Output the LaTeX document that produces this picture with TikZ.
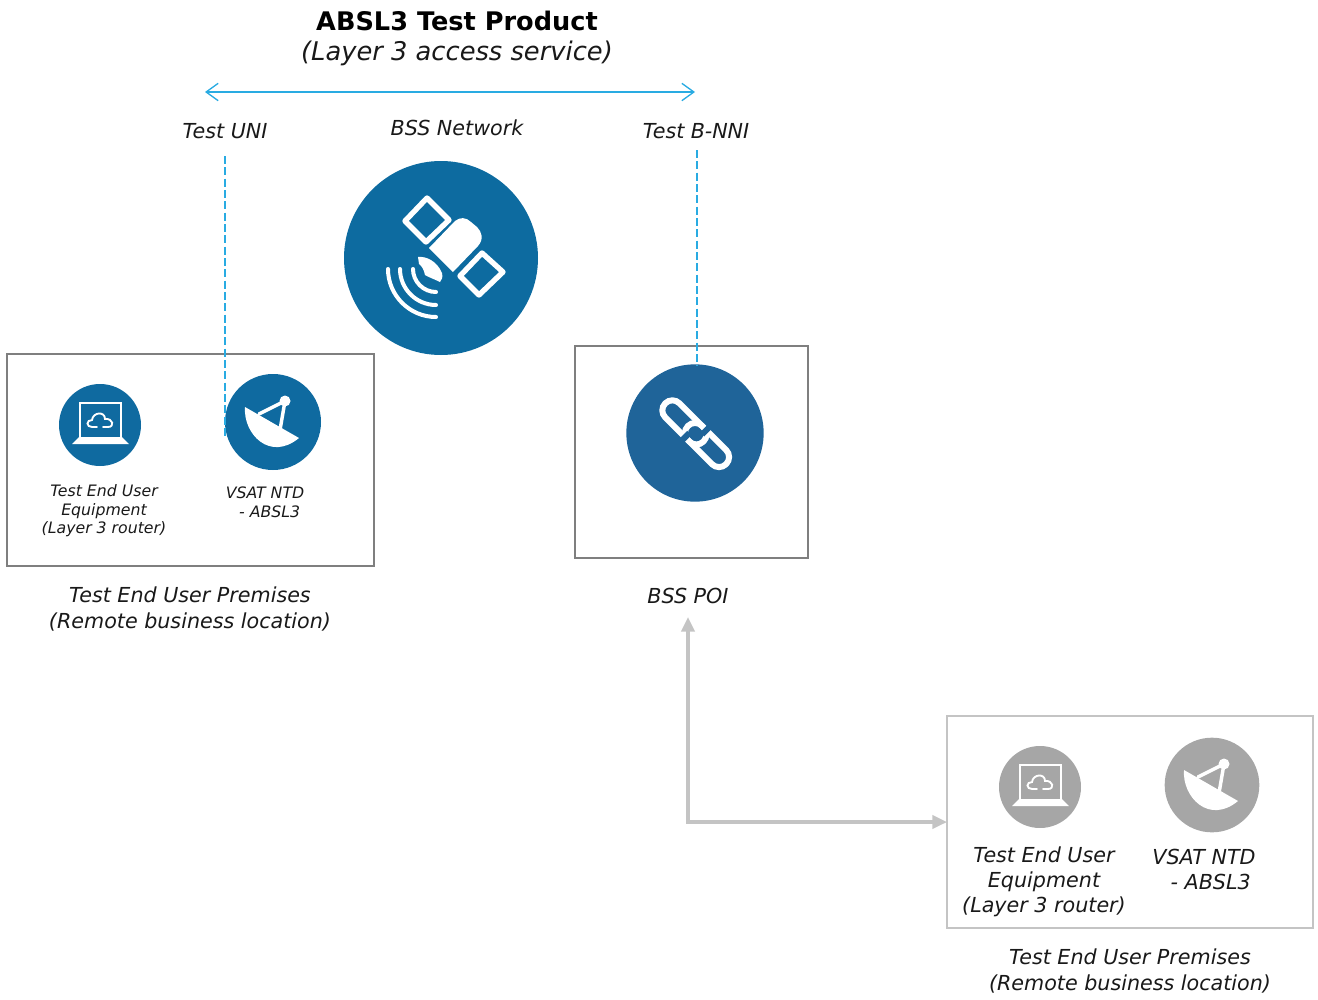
\documentclass[tikz,border=0pt]{standalone}
\usepackage{fontspec}
\setmainfont{DejaVu Sans}
\usetikzlibrary{arrows.meta}
\definecolor{satblue}{HTML}{0D6BA0}
\definecolor{linkblue}{HTML}{1F6499}
\definecolor{iconblue}{HTML}{0F6AA0}
\definecolor{icongray}{HTML}{A6A6A6}
\definecolor{boxgray}{HTML}{7F7F7F}
\definecolor{boxlight}{HTML}{C4C4C4}
\definecolor{linecyan}{HTML}{29ABE2}
\newcommand{\wavearc}[1]{%
  \draw[iconline,line cap=round,line width=3pt] (-5-#1,11) .. controls (-5-#1,11+0.55*#1) and (-5-0.55*#1,11+#1) .. (-5,11+#1);}
\newcommand{\laptopicon}[1]{%
  \begin{scope}[shift={(#1)}]
    \draw[white,line width=1.6pt] (-20,12) -- (-20,-22) -- (21,-22) -- (21,12);
    \fill[white] (-21,12) -- (22,12) -- (29,19) -- (-28,19) -- cycle;
    \draw[white,line width=1.4pt,line cap=round] (-3,2) -- (-8,2) .. controls (-14,2) and (-14,-5) .. (-8,-5) .. controls (-7,-13) and (5,-14) .. (5,-6) .. controls (13,-7) and (15,2) .. (8,2) -- (3,2);
  \end{scope}}
\newcommand{\dishicon}[1]{%
  \begin{scope}[shift={(#1)}]
    \fill[white] (-28,-15) .. controls (-30,12) and (-3,40) .. (26,16) -- cycle;
    \draw[white,line width=2.6pt,line cap=round] (-14,-8) -- (12,-21) -- (7,8);
    \fill[white] (12,-21) circle[radius=5.5];
  \end{scope}}
\tikzset{
  lab/.style={font=\itshape\fontsize{15.5}{18.8}\selectfont,align=center,text=black!90,inner sep=0pt},
  smalllab/.style={font=\itshape\fontsize{11.8}{13.9}\selectfont,align=center,text=black!90,inner sep=0pt},
  iconline/.style={white,line width=3pt},
  premises/.style={draw=boxgray,line width=2.2pt,fill=none,outer sep=0pt,inner sep=0pt},
  premiseslight/.style={draw=boxlight,line width=2.2pt,fill=none,outer sep=0pt,inner sep=0pt},
  disc/.style={circle,inner sep=0pt,outer sep=0pt},
  dashline/.style={linecyan,line width=1pt,dash pattern=on 6pt off 2.5pt},
}
\begin{document}
\begin{tikzpicture}[x=0.75pt,y=-0.75pt]
\useasboundingbox (0,0) rectangle (1318,1000);

% title
\node[inner sep=0pt,font=\bfseries\fontsize{19.2}{22}\selectfont] (title) at (457,21) {ABSL3 Test Product};
\node[lab,font=\itshape\fontsize{19.3}{22}\selectfont] (subtitle) at (457,53) {(Layer 3 access service)};

% span arrow
\coordinate (spanl) at (205,92);
\coordinate (spanr) at (695,92);
\draw[linecyan,line width=1pt,{Straight Barb[length=9pt,width=13pt]}-{Straight Barb[length=9pt,width=13pt]}] (spanl) -- (spanr);

\node[lab] (uni) at (225,131) {Test UNI};
\node[lab] (net) at (457,128) {BSS Network};
\node[lab] (nni) at (696,131) {Test B-NNI};

% boxes
\node[premises,minimum width=275.25pt,minimum height=159pt] (lbox) at (190.5,460) {};
\node[premises,minimum width=174.75pt,minimum height=159pt] (pbox) at (691.5,452) {};
\node[premiseslight,minimum width=274.5pt,minimum height=159pt] (rbox) at (1130,822) {};

% discs
\node[disc,fill=satblue,minimum size=145.5pt] (sat) at (441,258) {};
\node[disc,fill=iconblue,minimum size=61.5pt] (lap) at (100,425) {};
\node[disc,fill=iconblue,minimum size=72pt] (dish) at (273,422) {};
\node[disc,fill=linkblue,minimum size=103pt] (link) at (695,433) {};
\node[disc,fill=icongray,minimum size=61.5pt] (lapg) at (1040,787) {};
\node[disc,fill=icongray,minimum size=71pt] (dishg) at (1212,785) {};

% dashed lines
\coordinate (unitop) at (225,156);
\coordinate (uniend) at (225,438);
\coordinate (nnitop) at (697,150);
\coordinate (nniend) at (697,366);
\draw[dashline] (unitop) -- (uniend);
\draw[dashline] (nnitop) -- (nniend);

% satellite icon
\begin{scope}[shift={(sat.center)}]
  \draw[iconline,line width=4pt,line join=round] (-14,-60) -- (8,-38) -- (-15,-16) -- (-36,-37) -- cycle;
  \draw[iconline,line width=4pt,line join=round] (41,-5) -- (62,14) -- (38,37) -- (19,18) -- cycle;
  \fill[white] (-12,-10) -- (12,14) -- (37,-12) .. controls (43,-19) and (41,-26) .. (36,-31) -- (30,-36) .. controls (25,-41) and (19,-41) .. (14,-37) -- cycle;
  \fill[white] (-23,-1) .. controls (-15,-2) and (-4,3) .. (1,15) .. controls (2,19) and (1,22) .. (-1,24) .. controls (-7,21) and (-13,19) .. (-16,17) .. controls (-17,12) and (-19,8) .. (-22,6) -- cycle;
  \wavearc{23}
  \wavearc{36}
  \wavearc{48}
\end{scope}

% link icon
\begin{scope}[shift={(link.center)},rotate=-45]
  \draw[white,line width=4.5pt,rounded corners=7.4pt] (-42,-10) rectangle (12,10);
  \draw[white,line width=4.5pt,rounded corners=7.4pt] (-10,-10) rectangle (44,10);
  \fill[linkblue] (-7,4) rectangle (-1,14);
  \fill[linkblue] (3,-14) rectangle (9,-4);
\end{scope}

\laptopicon{lap.center}
\dishicon{dish.center}
\laptopicon{lapg.center}
\dishicon{dishg.center}

% labels in left box
\node[smalllab] (lapl) at (104,511) {Test End User\\Equipment\\(Layer 3 router)};
\node[smalllab] (dishl) at (265,502) {VSAT NTD\\\hspace*{7pt}- ABSL3};

\node[lab] (lprem) at (190,609) {Test End User Premises\\(Remote business location)};
\node[lab] (poil) at (688,596) {BSS POI};

% labels in right box
\node[lab] (lapgl) at (1044,882) {Test End User\\Equipment\\(Layer 3 router)};
\node[lab] (dishgl) at (1204,869) {VSAT NTD\\\hspace*{10pt}- ABSL3};
\node[lab] (rprem) at (1130,971) {Test End User Premises\\(Remote business location)};

% grey connector
\coordinate (poiarrow) at (688,617);
\draw[boxlight,line width=2.3pt,{Triangle[length=11pt,width=10pt]}-{Triangle[length=11pt,width=10pt]}] (poiarrow) |- (rbox.west);
\end{tikzpicture}
\end{document}
